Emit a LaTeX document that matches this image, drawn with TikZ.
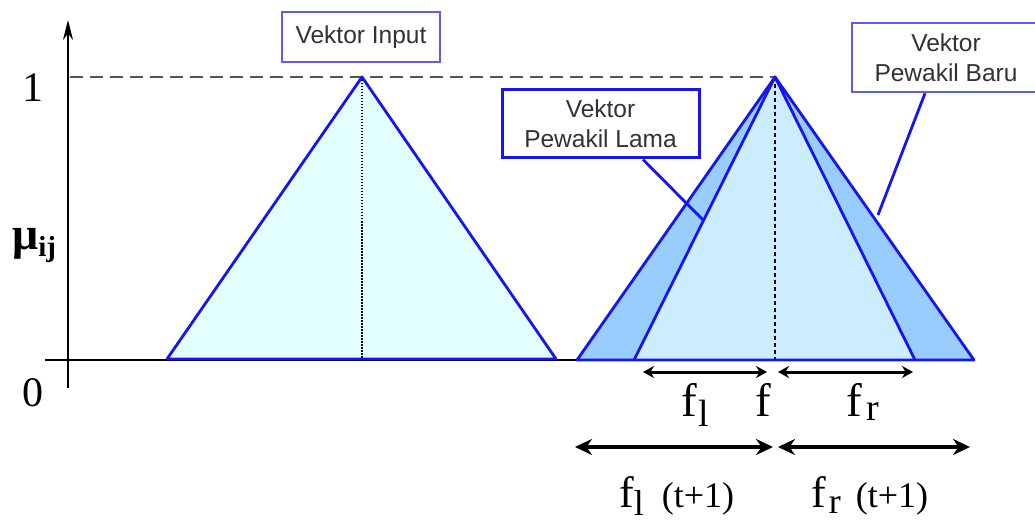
\documentclass[tikz,border=0pt]{standalone}
\usepackage{fontspec}
\setmainfont{Liberation Serif}
\newfontfamily\boxfont{Liberation Sans}
\usetikzlibrary{arrows.meta}
\definecolor{lineblue}{RGB}{20,20,245}
\definecolor{paleblue}{RGB}{90,90,255}
\definecolor{cyanfill}{RGB}{228,255,255}
\definecolor{outerfill}{RGB}{153,204,255}
\definecolor{innerfill}{RGB}{204,236,255}
\definecolor{dashgray}{RGB}{85,85,85}
\definecolor{boxtext}{RGB}{50,50,50}
\begin{document}
\begin{tikzpicture}[x=1pt,y=-1pt,
  tri/.style={draw=lineblue,line width=2.8pt,line join=round},
  labelbox/.style={draw=#1,line width=2.6pt,fill=white,inner sep=0pt,
    font=\boxfont\fontsize{24.5}{30}\selectfont,text=boxtext,align=center},
  callout/.style={draw=lineblue,line width=2.8pt},
  axislabel/.style={font=\fontsize{42}{42}\selectfont,inner sep=0pt},
  flabel/.style={anchor=base west,inner sep=0pt},
  dimsmall/.style={{Stealth[length=11pt,width=12pt]}-{Stealth[length=11pt,width=12pt]},line width=3pt},
  dimbig/.style={{Stealth[length=17pt,width=16pt]}-{Stealth[length=17pt,width=16pt]},line width=3.8pt}]
\useasboundingbox (0,0) rectangle (1035,521);

% axes
\coordinate (ybot) at (68,388);
\coordinate (ytop) at (68,20);
\coordinate (xl) at (45,360);
\coordinate (xr) at (577,360);
\draw[line width=2pt,-{Stealth[length=20pt,width=10pt]}] (ybot) -- (ytop);
\draw[line width=2pt] (xl) -- (xr);

% dashed level 1
\coordinate (d1) at (70,77);
\coordinate (apexR) at (775,77);
\draw[dashgray,line width=2.4pt,dash pattern=on 13pt off 7pt] (d1) -- (apexR);

% left triangle
\coordinate (aL) at (167,359);
\coordinate (apexL) at (362,77);
\coordinate (bL) at (556,359);
\coordinate (footL) at (362,359);
\fill[cyanfill] (aL) -- (apexL) -- (bL) -- cycle;
\draw[black,line width=2pt,dash pattern=on 1.5pt off 1.5pt] (apexL) -- (footL);
\draw[tri] (aL) -- (apexL) -- (bL) -- cycle;

% right triangles
\coordinate (oL) at (577,360);
\coordinate (oR) at (974,360);
\coordinate (iL) at (634,360);
\coordinate (iR) at (915,360);
\coordinate (footR) at (775,360);
\fill[outerfill] (oL) -- (apexR) -- (oR) -- cycle;
\fill[innerfill] (iL) -- (apexR) -- (iR) -- cycle;
\draw[black,line width=2.4pt,dash pattern=on 4pt off 3pt] (apexR) -- (footR);
\draw[tri] (oL) -- (apexR) -- (oR) -- cycle;
\draw[tri] (iL) -- (apexR) -- (iR);

% axis labels
\node[axislabel] (one) at (33,88) {1};
\node[axislabel] (zero) at (33,393) {0};
\node[inner sep=0pt,anchor=base west] (mu) at (12,250)
  {\fontsize{46}{46}\selectfont\bfseries μ\raisebox{-7pt}{\fontsize{29}{29}\selectfont ij}};

% label boxes
\node[labelbox=paleblue,minimum width=158pt,minimum height=50pt] (input) at (361,37) {Vektor Input};
\node[labelbox=lineblue,line width=3pt,minimum width=197pt,minimum height=68pt] (lama) at (600.5,124) {Vektor\\Pewakil Lama};
\node[labelbox=paleblue,minimum width=188pt,minimum height=69pt] (baru) at (946,57.5) {Vektor\\Pewakil Baru};

% callouts
\coordinate (lamatip) at (703,220);
\coordinate (barutip) at (878,215);
\draw[callout] ([xshift=42.5pt]lama.south) -- (lamatip);
\draw[callout] ([xshift=-21pt]baru.south) -- (barutip);

% dimension arrows
\coordinate (s1) at (643,372);
\coordinate (s2) at (767,372);
\coordinate (s3) at (778,372);
\coordinate (s4) at (913,372);
\coordinate (b1) at (575,447);
\coordinate (b2) at (773,447);
\coordinate (b3) at (778,447);
\coordinate (b4) at (970,447);
\draw[dimsmall] (s1) -- (s2);
\draw[dimsmall] (s3) -- (s4);
\draw[dimbig] (b1) -- (b2);
\draw[dimbig] (b3) -- (b4);

% f labels
\node[flabel] (fl) at (681,416) {\fontsize{47}{47}\selectfont f\hspace{2pt}\raisebox{-10pt}{\fontsize{38}{38}\selectfont l}};
\node[flabel] (f) at (755,416) {\fontsize{47}{47}\selectfont f};
\node[flabel] (fr) at (846,416) {\fontsize{47}{47}\selectfont f\hspace{5pt}\raisebox{-4pt}{\fontsize{38}{38}\selectfont r}};
\node[flabel] (flt) at (619,507) {\fontsize{44}{44}\selectfont f\raisebox{-8pt}{\fontsize{36}{36}\selectfont l}\hspace{18pt}{\fontsize{36}{36}\selectfont (t+1)}};
\node[flabel] (frt) at (811,507) {\fontsize{44}{44}\selectfont f\hspace{3pt}\raisebox{-6pt}{\fontsize{36}{36}\selectfont r}\hspace{15pt}{\fontsize{36}{36}\selectfont (t+1)}};
\end{tikzpicture}
\end{document}
